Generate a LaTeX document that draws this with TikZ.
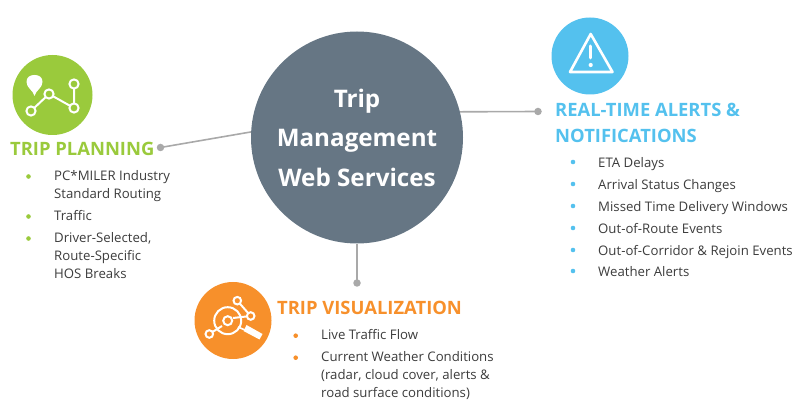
\documentclass[tikz,border=0pt]{standalone}
\usepackage{fontspec}
\setmainfont{Open Sans}
\definecolor{gr}{HTML}{9ACA3C}
\definecolor{bl}{HTML}{54C1EE}
\definecolor{or}{HTML}{F7902B}
\definecolor{sl}{HTML}{667684}
\definecolor{tx}{HTML}{3C3C3C}
\definecolor{ln}{HTML}{A9A9A9}
\tikzset{
  x=1pt,y=-1pt,
  head/.style={anchor=base west,inner sep=0,font=\fontsize{18.4}{26}\selectfont\bfseries},
  body/.style={anchor=base west,inner sep=0,text=tx,font=\fontsize{13.2}{18}\selectfont,align=left},
  disc/.style={circle,inner sep=0,minimum size=#1},
  dot/.style={circle,fill=ln,inner sep=0,minimum size=7.5pt},
  conn/.style={draw=ln,line width=1.6pt},
  ico/.style={draw=white,line width=2pt},
}
\newcommand{\bul}[3]{\fill[#1] (#2,#3) circle (2.3);}
\begin{document}
\begin{tikzpicture}
\useasboundingbox (0,0) rectangle (812,414);
\node[disc=212pt,fill=sl,text=white,align=center,font=\fontsize{24.2}{39.5}\selectfont\bfseries] (centre) at (357,137.5) {Trip\\Management\\Web Services};
\node[dot] (dl) at (160.5,147.5) {};
\node[dot] (dr) at (538,111.5) {};
\node[dot] (db) at (357,283) {};
\draw[conn] (dl.center) -- (centre.177);
\draw[conn] (dr.center) -- (centre.14);
\draw[conn] (db.center) -- (centre.south);
% green
\node[disc=80pt,fill=gr] (ig) at (52.5,95) {};
\draw[ico] (31,111) -- (49,94) -- (74,108) -- (74,84);
\foreach \p in {(31,111),(49,94),(74,108),(74,84)} {\filldraw[ico,fill=gr] \p circle (4.6);}
\fill[white] (34.5,96) .. controls (33,90) and (26.5,88) .. (26.5,82) .. controls (26.5,77) and (30,75) .. (34.5,75) .. controls (39,75) and (42.5,77) .. (42.5,82) .. controls (42.5,88) and (36,90) .. (34.5,96) -- cycle;
\node[head,text=gr] (tg) at (10,156) {TRIP PLANNING};
\bul{gr}{28.5}{176.5}\bul{gr}{28.5}{216.5}\bul{gr}{28.5}{238.5}
\node[body] at (54,180.5) {PC*MILER Industry};
\node[body] at (54,198.5) {Standard Routing};
\node[body] at (54,220.5) {Traffic};
\node[body] at (54,242.5) {Driver-Selected,};
\node[body] at (54,260.5) {Route-Specific};
\node[body] at (54,278.5) {HOS Breaks};
% blue
\node[disc=77pt,fill=bl] (ib) at (590,56) {};
\draw[ico,line width=2.6pt,line join=round] (590.7,34) -- (570,72) -- (612.5,72) -- cycle;
\draw[white,line width=3pt,line cap=round] (590.7,46) -- (590.7,58);
\fill[white] (590.7,65) circle (2.1);
\node[head,text=bl] at (555,117) {REAL-TIME ALERTS \&};
\node[head,text=bl] at (555,143) {NOTIFICATIONS};
\foreach \y in {162,184,206,228,250,271} {\bul{bl}{573}{\y}}
\node[body] at (598,167.5) {ETA Delays};
\node[body] at (598,189.5) {Arrival Status Changes};
\node[body] at (598,211.5) {Missed Time Delivery Windows};
\node[body] at (598,233.5) {Out-of-Route Events};
\node[body] at (598,255.5) {Out-of-Corridor \& Rejoin Events};
\node[body] at (598,276.5) {Weather Alerts};
% orange
\node[disc=77pt,fill=or] (io) at (233,320.5) {};
\draw[ico] (227.7,320.7) circle (13.5);
\draw[ico] (227.7,320.7) circle (4.5);
\draw[ico] (209.3,334) -- (222,326);
\draw[ico] (237.3,300.7) -- (250.7,316) -- (233,318);
\filldraw[ico,fill=or] (237.3,300.7) circle (3.8);
\filldraw[ico,fill=or] (250.7,316) circle (3.8);
\filldraw[ico,fill=or] (209.3,334) circle (3.8);
\draw[white,line width=1.6pt] (238,327) -- (245,330);
\fill[white] (246.5,325) -- (262.5,334) -- (259.5,339.5) -- (243.5,331) -- cycle;
\node[head,text=or] at (277,315) {TRIP VISUALIZATION};
\bul{or}{295.7}{335.7}\bul{or}{295.7}{357.7}
\node[body] at (321,339.5) {Live Traffic Flow};
\node[body] at (321,361.5) {Current Weather Conditions};
\node[body] at (321,379.5) {(radar, cloud cover, alerts \&};
\node[body] at (321,397.5) {road surface conditions)};
\end{tikzpicture}
\end{document}
